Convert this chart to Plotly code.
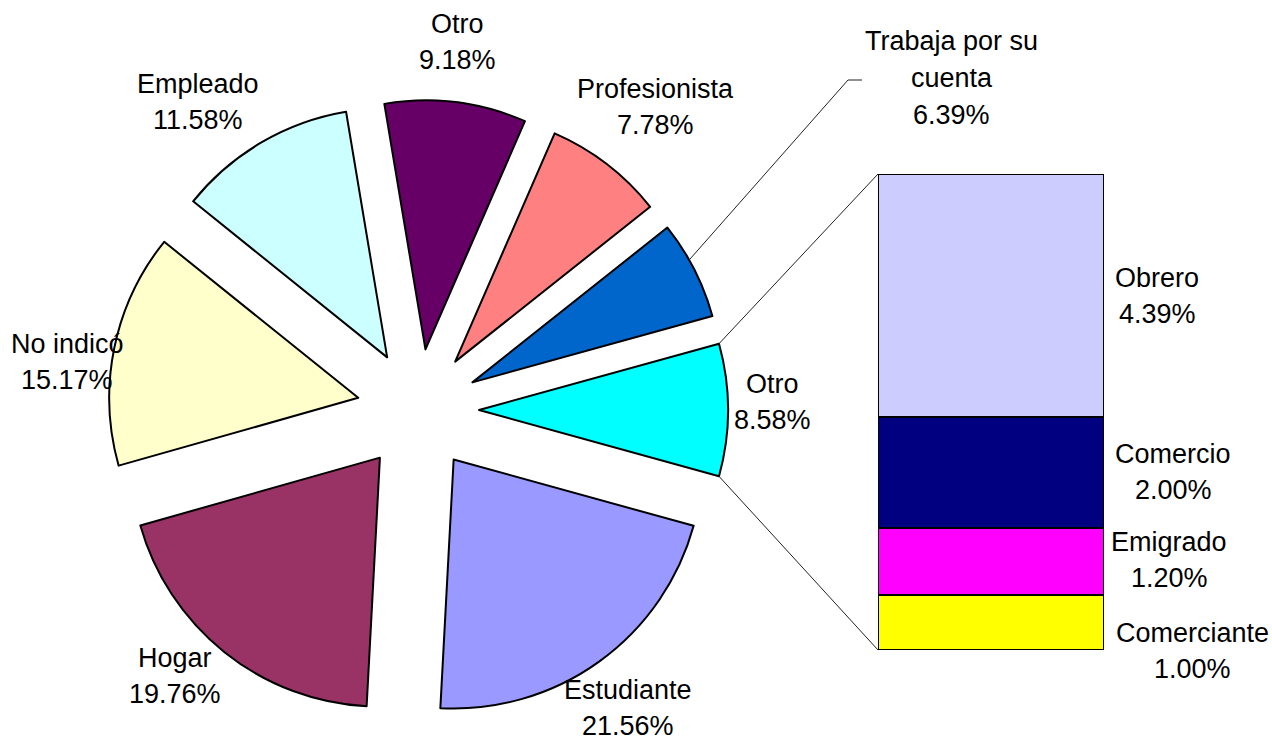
import math
import plotly.graph_objects as go

# ---------------- data ----------------
pie_labels = ["Otro", "Estudiante", "Hogar", "No indicó", "Empleado", "Otro",
              "Profesionista", "Trabaja por su cuenta"]
pie_values = [8.58, 21.56, 19.76, 15.17, 11.58, 9.18, 7.78, 6.39]
pie_colors = ["#00FFFF", "#9999FF", "#993366", "#FFFFCC", "#CCFFFF", "#660066",
              "#FF8080", "#0066CC"]

bar_labels = ["Comerciante", "Emigrado", "Comercio", "Obrero"]   # bottom -> top
bar_values = [1.00, 1.20, 2.00, 4.39]
bar_colors = ["#FFFF00", "#FF00FF", "#000080", "#CCCCFF"]

# ---------------- layout constants ----------------
W, H = 1272, 742
FONT = "Liberation Sans, Arial, sans-serif"
FS = 27
LINE_GAP = 36.8

pie_center = (418, 410)      # px
pie_r = 249                  # px
pull = 61 / 249

bar_px = (878, 1104, 174, 650)   # left, right, top, bottom

pie_label_pos = [(772, 402), (628, 708), (175, 676), (67, 362), (198, 102),
                 (458, 42), (655, 107), (952, 78)]
bar_label_pos = [(1192, 651), (1169, 560), (1173, 472), (1157, 296)]
leader_pts = [(848, 80), (862, 80)]

total = sum(pie_values)
first_deg = pie_values[0] / total * 360
rotation = 90 - first_deg / 2

half = pie_r * (1 + pull)
pie_dom_x = [(pie_center[0] - half) / W, (pie_center[0] + half) / W]
pie_dom_y = [1 - (pie_center[1] + half) / H, 1 - (pie_center[1] - half) / H]

bar_dom_x = [bar_px[0] / W, bar_px[1] / W]
bar_dom_y = [1 - bar_px[3] / H, 1 - bar_px[2] / H]


def px2p(x, y):
    return x / W, 1 - y / H


def wrap(text, maxc=14):
    words, lines, cur = text.split(), [], ""
    for w in words:
        if cur and len(cur) + 1 + len(w) > maxc:
            lines.append(cur)
            cur = w
        else:
            cur = (cur + " " + w).strip()
    lines.append(cur)
    return lines


fig = go.Figure()

fig.add_trace(go.Pie(
    labels=[f"{l} {i}" for i, l in enumerate(pie_labels)],
    values=pie_values,
    sort=False,
    direction="clockwise",
    rotation=rotation,
    pull=[pull] * len(pie_values),
    marker=dict(colors=pie_colors, line=dict(color="black", width=2)),
    textinfo="none",
    hoverinfo="label+value",
    domain=dict(x=pie_dom_x, y=pie_dom_y),
    showlegend=False,
))

for lab, val, col in zip(bar_labels, bar_values, bar_colors):
    fig.add_trace(go.Bar(
        x=[0], y=[val], width=1, name=lab,
        marker=dict(color=col, line=dict(color="black", width=2)),
        showlegend=False, hoverinfo="name+y",
    ))

# ---------------- connectors ----------------
shapes = []


def slice_geom(idx):
    start = rotation + sum(pie_values[:idx]) / total * 360
    end = start + pie_values[idx] / total * 360
    mid = (start + end) / 2
    pcx = pie_center[0] + pull * pie_r * math.sin(math.radians(mid))
    pcy = pie_center[1] - pull * pie_r * math.cos(math.radians(mid))
    return start, end, mid, pcx, pcy


def arc_pt(pcx, pcy, a):
    return (pcx + pie_r * math.sin(math.radians(a)),
            pcy - pie_r * math.cos(math.radians(a)))


s0, e0, m0, pcx0, pcy0 = slice_geom(0)
top_c = arc_pt(pcx0, pcy0, s0)
bot_c = arc_pt(pcx0, pcy0, e0)
for (xa, ya), (xb, yb) in [(top_c, (bar_px[0], bar_px[2])), (bot_c, (bar_px[0], bar_px[3]))]:
    x0, y0 = px2p(xa, ya)
    x1, y1 = px2p(xb, yb)
    shapes.append(dict(type="line", xref="paper", yref="paper", x0=x0, y0=y0,
                       x1=x1, y1=y1, line=dict(color="#222222", width=1)))

# leader line for last slice
sl, el, ml, pcxl, pcyl = slice_geom(len(pie_values) - 1)
lp = arc_pt(pcxl, pcyl, ml - 2.5)
pts = [lp] + leader_pts
for (xa, ya), (xb, yb) in zip(pts[:-1], pts[1:]):
    x0, y0 = px2p(xa, ya)
    x1, y1 = px2p(xb, yb)
    shapes.append(dict(type="line", xref="paper", yref="paper", x0=x0, y0=y0,
                       x1=x1, y1=y1, line=dict(color="#222222", width=1)))

# ---------------- labels ----------------
annotations = []


def add_label(lines, cx, cy):
    n = len(lines)
    for j, t in enumerate(lines):
        y = cy + (j - (n - 1) / 2) * LINE_GAP
        xp, yp = px2p(cx, y)
        annotations.append(dict(text=t, x=xp, y=yp, xref="paper", yref="paper",
                                xanchor="center", yanchor="middle", showarrow=False,
                                font=dict(family=FONT, size=FS, color="black")))


for lab, val, (cx, cy) in zip(pie_labels, pie_values, pie_label_pos):
    add_label(wrap(lab) + [f"{val:.2f}%"], cx, cy)
for lab, val, (cx, cy) in zip(bar_labels, bar_values, bar_label_pos):
    add_label(wrap(lab) + [f"{val:.2f}%"], cx, cy)

fig.update_layout(
    width=W, height=H,
    margin=dict(l=0, r=0, t=0, b=0),
    paper_bgcolor="white", plot_bgcolor="white",
    barmode="stack", bargap=0,
    xaxis=dict(domain=bar_dom_x, range=[-0.5, 0.5], visible=False, fixedrange=True),
    yaxis=dict(domain=bar_dom_y, range=[0, sum(bar_values)], visible=False, fixedrange=True),
    shapes=shapes,
    annotations=annotations,
    showlegend=False,
)

fig.write_html("out.html",
               config={"displayModeBar": False},
               post_script="document.body.style.margin='0';document.body.style.overflow='hidden';")
